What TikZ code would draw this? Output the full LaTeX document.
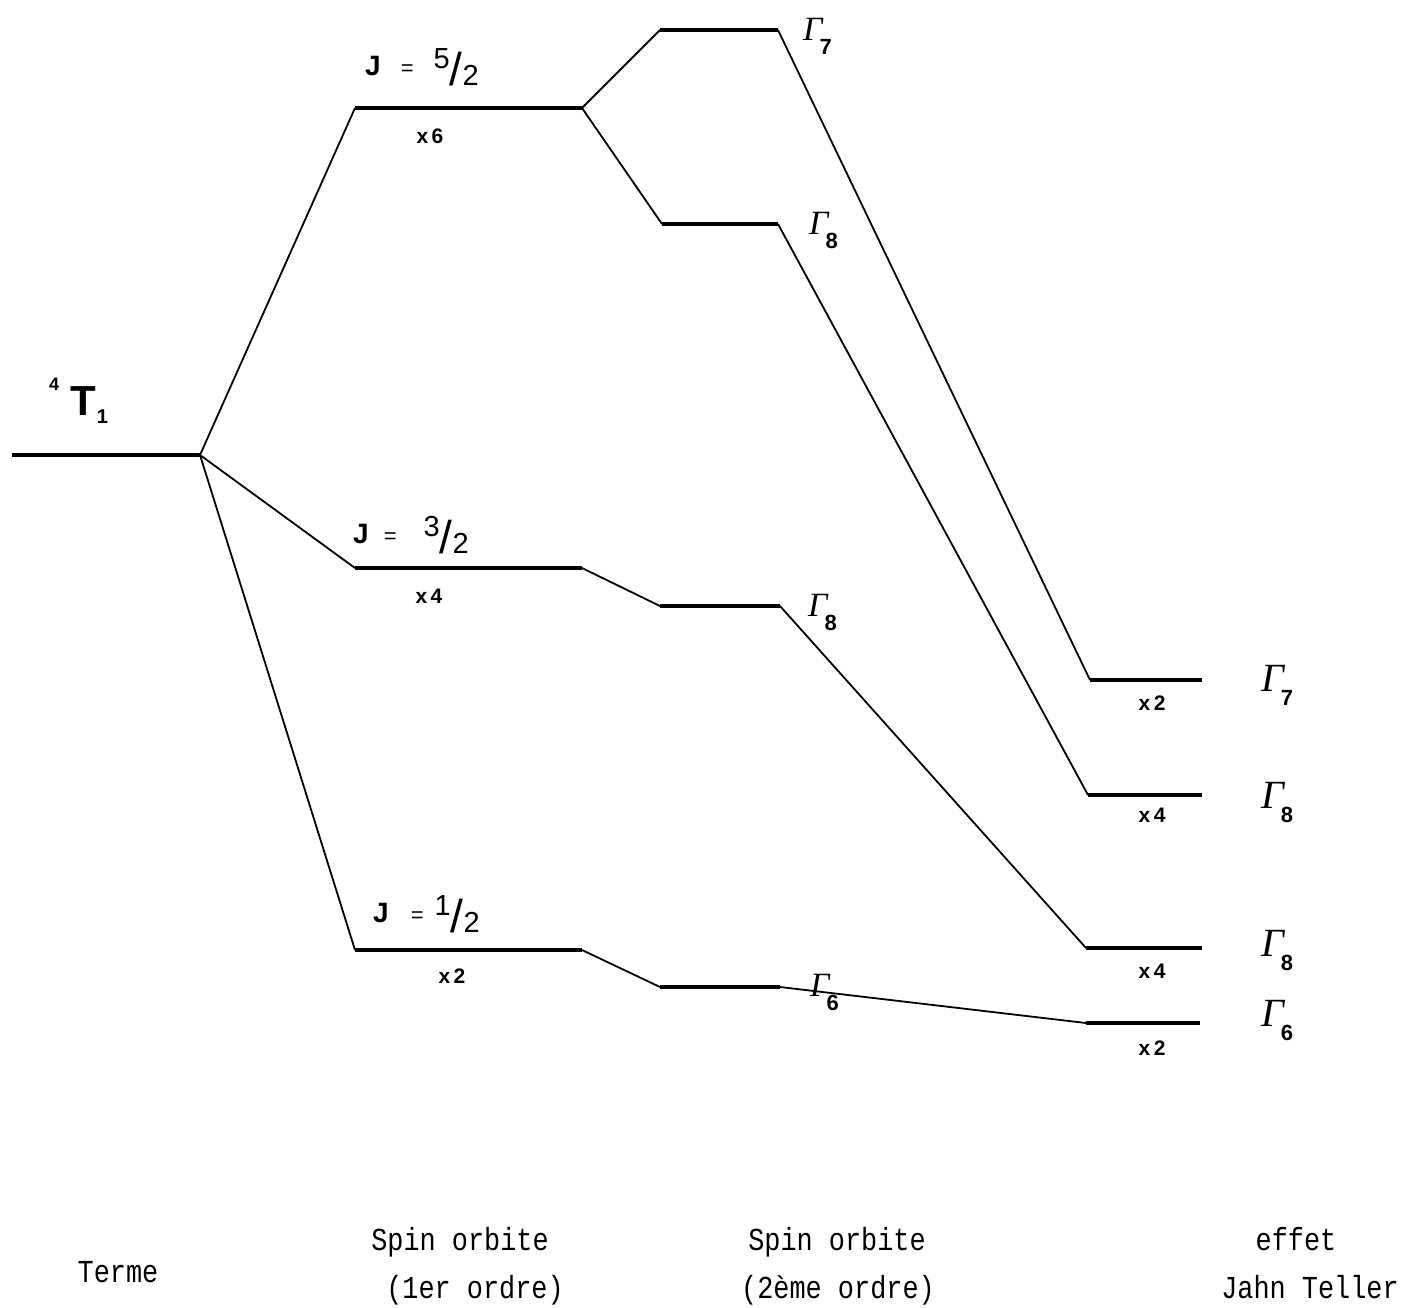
\documentclass[tikz,border=0pt]{standalone}
\usepackage{fontspec}
\newfontfamily\hv{Liberation Sans}
\newfontfamily\tms{Liberation Serif}
\newfontfamily\mono[FakeStretch=0.84]{Liberation Mono}
\newcommand{\Glab}[2][34]{{\tms\itshape\fontsize{#1}{#1}\selectfont Γ}\kern-3pt\raisebox{-14pt}{\hv\bfseries\fontsize{22}{22}\selectfont #2}}
\newcommand{\Jlab}[4]{{\hv{\bfseries\fontsize{28}{28}\selectfont J}\hspace{#3pt}{\fontsize{22}{22}\selectfont =}\hspace{#4pt}\fontsize{29}{29}\selectfont\raisebox{7pt}{#1}\raisebox{-10pt}{\fontsize{46}{46}\selectfont /}\raisebox{-10pt}{#2}}}
\newcommand{\mult}[1]{{\hv\bfseries\fontsize{21}{21}\selectfont x\,#1}}
\begin{document}
\begin{tikzpicture}[x=1pt,y=-1pt,
  lev/.style={line width=3.4pt},
  con/.style={line width=1.8pt, line join=round},
  lab/.style={anchor=base west, inner sep=0pt},
  mlab/.style={anchor=base, inner sep=0pt},
  bot/.style={anchor=base, inner sep=0pt, font=\mono\fontsize{32}{32}\selectfont}]
\useasboundingbox (0,0) rectangle (1407,1307);
% level end points
\coordinate (Tw) at (12,455);   \coordinate (Te) at (200,455);
\coordinate (Aw) at (355,108);  \coordinate (Ae) at (582,108);
\coordinate (Bw) at (355,568);  \coordinate (Be) at (582,568);
\coordinate (Cw) at (355,950);  \coordinate (Ce) at (582,950);
\coordinate (Dw) at (660,30);   \coordinate (De) at (778,30);
\coordinate (Ew) at (662,224);  \coordinate (Ee) at (778,224);
\coordinate (Fw) at (660,606);  \coordinate (Fe) at (780,606);
\coordinate (Gw) at (660,987);  \coordinate (Ge) at (780,987);
\coordinate (Hw) at (1090,680); \coordinate (He) at (1202,680);
\coordinate (Iw) at (1088,795); \coordinate (Ie) at (1202,795);
\coordinate (Kw) at (1086,948); \coordinate (Ke) at (1202,948);
\coordinate (Lw) at (1086,1023);\coordinate (Le) at (1200,1023);
% levels
\foreach \n in {T,A,B,C,D,E,F,G,H,I,K,L}{\draw[lev] (\n w) -- (\n e);}
% connectors
\draw[con] (Te) -- (Aw);
\draw[con] (Te) -- (Bw);
\draw[con] (Te) -- (Cw);
\draw[con] (Ae) -- (Dw);
\draw[con] (Ae) -- (Ew);
\draw[con] (Be) -- (Fw);
\draw[con] (Ce) -- (Gw);
\draw[con] (De) -- (Hw);
\draw[con] (Ee) -- (Iw);
\draw[con] (Fe) -- (Kw);
\draw[con] (Ge) -- (Lw);
% term label
\node[lab] (tlab) at (49,415) {\hv\bfseries\raisebox{25pt}{\fontsize{18}{18}\selectfont 4}\hspace{11pt}\fontsize{42}{42}\selectfont T\hspace{1pt}\raisebox{-8pt}{\fontsize{20}{20}\selectfont 1}};
% J labels
\node[lab] (ja) at (365,75) {\Jlab{5}{2}{20}{20}};
\node[lab] (jb) at (353,543) {\Jlab{3}{2}{15}{27}};
\node[lab] (jc) at (373,922) {\Jlab{1}{2}{22}{11}};
\node[mlab] (ma) at (430,143) {\mult{6}};
\node[mlab] (mb) at (429,603) {\mult{4}};
\node[mlab] (mc) at (452,983) {\mult{2}};
% second order labels
\node[lab] (gd) at (803,40) {\Glab{7}};
\node[lab] (ge) at (809,234) {\Glab{8}};
\node[lab] (gf) at (808,616) {\Glab{8}};
\node[lab] (gg) at (810,996) {\Glab{6}};
% Jahn-Teller labels
\node[lab] (gh) at (1261,691) {\Glab[40]{7}};
\node[lab] (gi) at (1261,808) {\Glab[40]{8}};
\node[lab] (gk) at (1261,956) {\Glab[40]{8}};
\node[lab] (gl) at (1261,1026) {\Glab[40]{6}};
\node[mlab] (mh) at (1152,710) {\mult{2}};
\node[mlab] (mi) at (1152,822) {\mult{4}};
\node[mlab] (mk) at (1152,978) {\mult{4}};
\node[mlab] (ml) at (1152,1055) {\mult{2}};
% bottom captions
\node[bot] (b0) at (118,1282) {Terme};
\node[bot] (b1) at (460,1250) {Spin orbite};
\node[bot] (b2) at (475,1298) {(1er ordre)};
\node[bot] (b3) at (837,1250) {Spin orbite};
\node[bot] (b4) at (838,1298) {(2ème ordre)};
\node[bot] (b5) at (1296,1250) {effet};
\node[bot] (b6) at (1310,1298) {Jahn Teller};
\end{tikzpicture}
\end{document}
